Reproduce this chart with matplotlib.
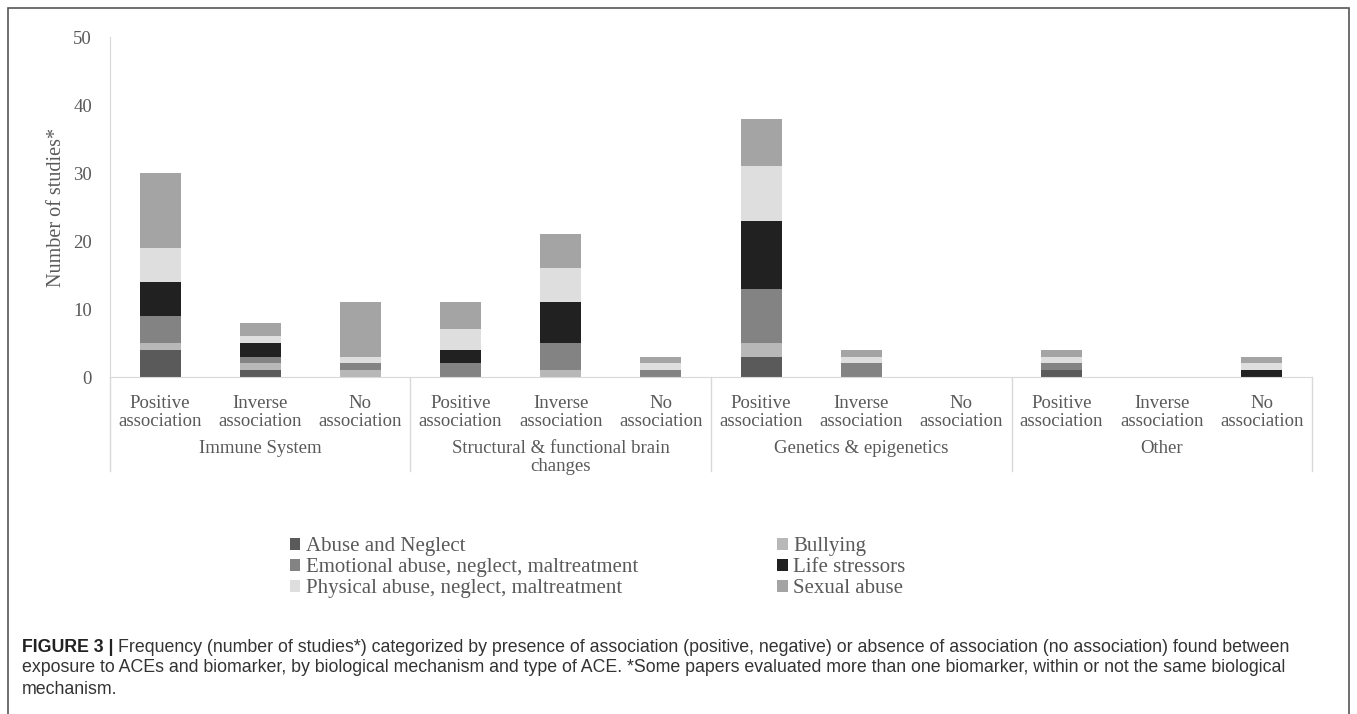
import matplotlib
matplotlib.use("Agg")
import matplotlib.pyplot as plt
import matplotlib.patches as mpatches
import matplotlib.transforms as mtransforms

# categories and stacked values (number of studies)
groups = ["Immune System", "Structural & functional brain\nchanges",
          "Genetics & epigenetics", "Other"]
assoc = ["Positive\nassociation", "Inverse\nassociation", "No\nassociation"] * 4

abuse_neglect = [4, 1, 0, 0, 0, 0, 3, 0, 0, 1, 0, 0]
bullying = [1, 1, 1, 0, 1, 0, 2, 0, 0, 0, 0, 0]
emotional = [4, 1, 1, 2, 4, 1, 8, 2, 0, 1, 0, 0]
life_stressors = [5, 2, 0, 2, 6, 0, 10, 0, 0, 0, 0, 1]
physical = [5, 1, 1, 3, 5, 1, 8, 1, 0, 1, 0, 1]
sexual = [11, 2, 8, 4, 5, 1, 7, 1, 0, 1, 0, 1]

series = [
    ("Abuse and Neglect", abuse_neglect, "#5a5a5a"),
    ("Bullying", bullying, "#b8b8b8"),
    ("Emotional abuse, neglect, maltreatment", emotional, "#838383"),
    ("Life stressors", life_stressors, "#212121"),
    ("Physical abuse, neglect, maltreatment", physical, "#dedede"),
    ("Sexual abuse", sexual, "#a4a4a4"),
]

W, H = 1357, 714
serif = ["Liberation Serif", "DejaVu Serif"]
gray_txt = "#595959"
axis_col = "#d9d9d9"

fig = plt.figure(figsize=(W / 100, H / 100), dpi=100)
ax = fig.add_axes([110 / W, 1 - 377 / H, (1312 - 110) / W, 340 / H])

x = list(range(len(assoc)))
bottom = [0] * len(x)
handles = {}
for name, vals, col in series:
    b = ax.bar(x, vals, 0.41, bottom=bottom, color=col, linewidth=0, label=name)
    handles[name] = b
    bottom = [bt + v for bt, v in zip(bottom, vals)]

ax.set_xlim(-0.5, len(x) - 0.5)
ax.set_ylim(0, 50)
ax.set_yticks(range(0, 51, 10))
for s in ["top", "right"]:
    ax.spines[s].set_visible(False)
ax.spines["left"].set_color(axis_col)
ax.spines["bottom"].set_color(axis_col)
ax.tick_params(axis="y", length=0, pad=13, labelsize=13.5, labelcolor=gray_txt)
ax.tick_params(axis="x", length=0, pad=13, labelsize=13.5, labelcolor=gray_txt)
for lab in ax.get_yticklabels():
    lab.set_family(serif)
ax.set_xticks(x)
ax.set_xticklabels(assoc, family=serif, linespacing=1.08)

ax.set_ylabel("Number of studies*", family=serif, fontsize=14.5, color=gray_txt,
              labelpad=5)

# group labels and separators below the axis
trans = mtransforms.blended_transform_factory(ax.transData, ax.transAxes)
for i, g in enumerate(groups):
    ax.text(3 * i + 1, -0.185, g, transform=trans, ha="center", va="top",
            family=serif, fontsize=13.5, color=gray_txt, linespacing=1.05)
for sx in [-0.5, 2.5, 5.5, 8.5, 11.5]:
    ax.plot([sx, sx], [0, -0.275], transform=trans, color=axis_col, lw=1,
            clip_on=False)

# legend: two columns, filled column-wise
order = ["Abuse and Neglect", "Emotional abuse, neglect, maltreatment",
         "Physical abuse, neglect, maltreatment", "Bullying", "Life stressors",
         "Sexual abuse"]
leg = fig.legend([handles[n] for n in order], order, ncol=2,
                 loc="upper left", bbox_to_anchor=(290 / W, 1 - 537 / H),
                 frameon=False, borderpad=0, borderaxespad=0,
                 handlelength=0.5, handleheight=0.5, handletextpad=0.25,
                 labelspacing=0.1, columnspacing=6.7,
                 prop={"family": serif, "size": 15})
for t in leg.get_texts():
    t.set_color(gray_txt)

# outer frame
frame = mpatches.Rectangle((8 / W, -0.05), (1349 - 8) / W, 1.05 - 8 / H,
                           transform=fig.transFigure, fill=False,
                           edgecolor="#555555", lw=1.2)
fig.patches.append(frame)

# caption
sans = ["Liberation Sans", "DejaVu Sans"]
cap_size = 12.8
renderer = fig.canvas.get_renderer()
t0 = fig.text(22 / W, 1 - 647 / H, "FIGURE 3 | ", family=sans, fontsize=cap_size,
              weight="bold", color="#222222", va="center")
bb = t0.get_window_extent(renderer=renderer)
fig.text(bb.x1 / W, 1 - 647 / H,
         "Frequency (number of studies*) categorized by presence of association "
         "(positive, negative) or absence of association (no association) found between",
         family=sans, fontsize=cap_size, color="#333333", va="center")
fig.text(22 / W, 1 - 668 / H,
         "exposure to ACEs and biomarker, by biological mechanism and type of ACE. "
         "*Some papers evaluated more than one biomarker, within or not the same biological",
         family=sans, fontsize=cap_size, color="#333333", va="center")
fig.text(22 / W, 1 - 689 / H, "mechanism.", family=sans, fontsize=cap_size,
         color="#333333", va="center")

fig.savefig("out.png", dpi=100)
